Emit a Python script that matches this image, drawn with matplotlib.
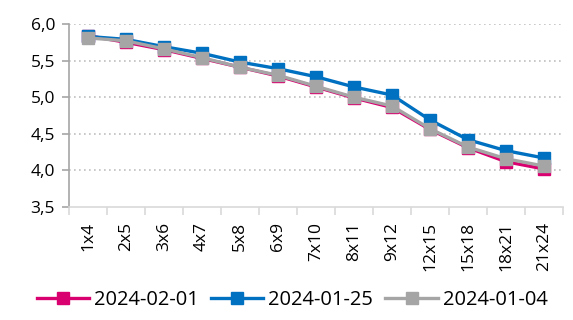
import matplotlib
matplotlib.use("Agg")
import matplotlib.pyplot as plt
from matplotlib.ticker import FixedLocator, FuncFormatter

categories = ["1x4", "2x5", "3x6", "4x7", "5x8", "6x9", "7x10", "8x11",
              "9x12", "12x15", "15x18", "18x21", "21x24"]
s_0201 = [5.84, 5.75, 5.65, 5.53, 5.41, 5.29, 5.14, 4.99, 4.86, 4.56, 4.31, 4.12, 4.02]
s_0125 = [5.83, 5.79, 5.69, 5.60, 5.48, 5.39, 5.28, 5.14, 5.03, 4.69, 4.42, 4.27, 4.17]
s_0104 = [5.81, 5.77, 5.66, 5.54, 5.41, 5.30, 5.15, 5.00, 4.88, 4.57, 4.32, 4.16, 4.06]
labels = ["2024-02-01", "2024-01-25", "2024-01-04"]
colors = ["#D9006F", "#0070C0", "#A5A5A5"]

plt.rcParams["font.family"] = ["Open Sans", "DejaVu Sans"]

fig = plt.figure(figsize=(5.73, 3.2), dpi=100)
ax = fig.add_axes([0.1204, 0.353, 0.862, 0.572])

x = list(range(len(categories)))
for vals, lab, col in zip([s_0201, s_0125, s_0104], labels, colors):
    ax.plot(x, vals, color=col, lw=2.4, marker="s", ms=8.5, label=lab,
            markeredgecolor=col)

ax.set_ylim(3.5, 6.0)
ax.set_xlim(-0.5, len(categories) - 0.5)
ax.set_yticks([3.5, 4.0, 4.5, 5.0, 5.5, 6.0])
ax.yaxis.set_major_formatter(FuncFormatter(lambda v, p: f"{v:.1f}".replace(".", ",")))
ax.set_xticks(x)
ax.set_xticklabels(categories, rotation=90, va="top", ha="center")
ax.xaxis.set_minor_locator(FixedLocator([i - 0.5 for i in range(len(categories) + 1)]))
ax.tick_params(axis="x", which="major", length=0, pad=11, labelsize=12.5)
ax.tick_params(axis="x", which="minor", length=6, color="#D9D9D9", width=1.2)
ax.tick_params(axis="y", length=5, color="#A6A6A6", width=1.2, labelsize=12.5, pad=5)

for v in [4.0, 4.5, 5.0, 5.5, 6.0]:
    ax.axhline(v, color="#BFBFBF", lw=1.2, ls=(0, (1, 2)), zorder=0)

for s in ["top", "right"]:
    ax.spines[s].set_visible(False)
ax.spines["left"].set_color("#A6A6A6")
ax.spines["bottom"].set_color("#D9D9D9")
ax.spines["left"].set_linewidth(1.2)
ax.spines["bottom"].set_linewidth(1.2)

fig.legend(loc="lower center", bbox_to_anchor=(0.51, -0.025), ncol=3, frameon=False,
           fontsize=14.5, handlelength=2.6, columnspacing=0.6, handletextpad=0.25)

fig.savefig("out.png", dpi=100)
